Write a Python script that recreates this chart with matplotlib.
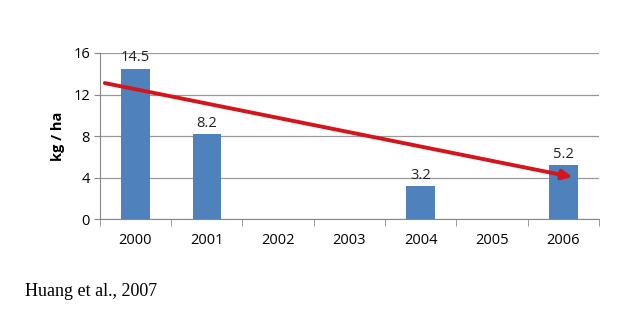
import matplotlib.pyplot as plt
import numpy as np

years = ['2000', '2001', '2002', '2003', '2004', '2005', '2006']
values = [14.5, 8.2, 0, 0, 3.2, 0, 5.2]
labels = ['14.5', '8.2', '', '', '3.2', '', '5.2']
trend_x = [-0.43, 6.13]
trend_y = [13.1, 4.05]

plt.rcParams['font.family'] = ['Open Sans', 'DejaVu Sans']

fig = plt.figure(figsize=(6.4, 3.31), dpi=100)
ax = fig.add_axes([0.156, 0.338, 0.78, 0.502])

x = np.arange(len(years))
ax.bar(x, values, width=0.4, color='#4F81BD', zorder=3)
for xi, v, lab in zip(x, values, labels):
    if lab:
        ax.text(xi, v + 0.3, lab, ha='center', va='bottom', fontsize=10.5, color='#222222')

# trend arrow
ax.annotate('', xy=(trend_x[1], trend_y[1]), xytext=(trend_x[0], trend_y[0]),
            arrowprops=dict(arrowstyle='-|>,head_length=0.6,head_width=0.28',
                            color='#D4151B', lw=2.8, shrinkA=0, shrinkB=0),
            zorder=4)

ax.set_xlim(-0.5, 6.5)
ax.set_ylim(0, 16)
ax.set_yticks([0, 4, 8, 12, 16])
ax.set_xticks(x)
ax.set_xticklabels(years)
ax.set_xticks(np.arange(-0.5, 7, 1), minor=True)
ax.tick_params(axis='x', which='major', length=0, pad=10, labelsize=10.5)
ax.tick_params(axis='x', which='minor', length=5, color='#888888')
ax.tick_params(axis='y', length=4, color='#888888', labelsize=10.5, pad=3)
ax.yaxis.grid(True, color='#999999', lw=0.9, zorder=0)
for s in ['top', 'right']:
    ax.spines[s].set_visible(False)
ax.spines['left'].set_color('#888888')
ax.spines['bottom'].set_color('#888888')
ax.set_ylabel('kg / ha', fontweight='bold', fontsize=10.5, labelpad=6)

fig.text(25 / 640, 1 - 292 / 331, 'Huang et al., 2007', family='Liberation Serif',
         fontsize=13, va='center', ha='left')

fig.savefig('out.png', dpi=100)
